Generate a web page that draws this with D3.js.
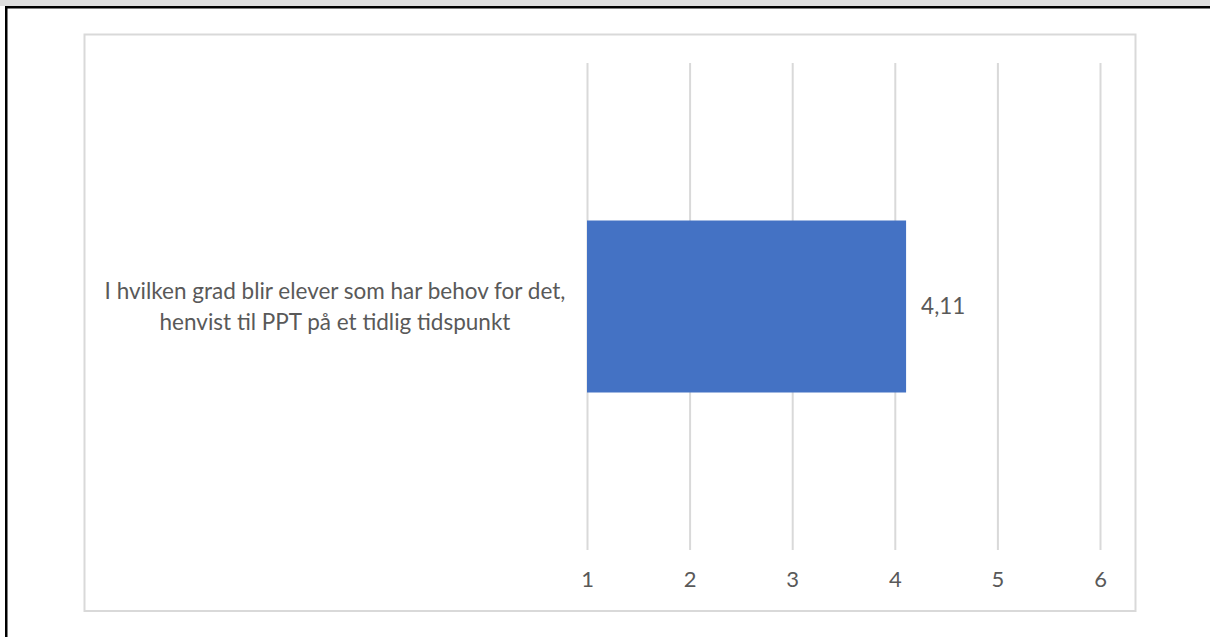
<!DOCTYPE html>
<html><head><meta charset="utf-8">
<script src="https://cdn.jsdelivr.net/npm/d3@7"></script>
<style>html,body{margin:0;padding:0;background:#fff;}svg{display:block;}</style>
</head><body>
<svg id="c" width="1210" height="637"></svg>
<script>
const categories = ["I hvilken grad blir elever som har behov for det,|henvist til PPT på et tidlig tidspunkt"];
const values = [4.11];
const valueLabels = ["4,11"];
const ticks = [1, 2, 3, 4, 5, 6];

const svg = d3.select("#c");
const font = "Lato, 'Open Sans', sans-serif";
const textCol = "#595959";
const gridCol = "#d9d9d9";

// outer page frame
svg.append("rect").attr("x",0).attr("y",0).attr("width",1210).attr("height",6).attr("fill","#dedede");
svg.append("rect").attr("x",5).attr("y",6).attr("width",1205).attr("height",2.5).attr("fill","#000");
svg.append("rect").attr("x",5).attr("y",6).attr("width",2.5).attr("height",631).attr("fill","#000");

// chart frame
svg.append("rect").attr("x",84.5).attr("y",34.5).attr("width",1051).attr("height",576.5)
  .attr("fill","#fff").attr("stroke",gridCol).attr("stroke-width",2);

const x = d3.scaleLinear().domain([1,6]).range([587,1100]);
const y = d3.scaleBand().domain(categories).range([63,550]).paddingInner(0.478).paddingOuter(0.478);

// gridlines via axis
const gx = svg.append("g").attr("transform","translate(0,550)")
  .call(d3.axisBottom(x).tickValues(ticks).tickSize(-487).tickFormat(d3.format("d")).tickPadding(21));
gx.select(".domain").remove();
gx.selectAll(".tick line").attr("stroke",gridCol).attr("stroke-width",2);
gx.selectAll(".tick text").attr("fill",textCol).style("font-family",font).style("font-size","22px");

// bars
svg.selectAll("rect.bar").data(values).enter().append("rect").attr("class","bar")
  .attr("x", x(1)).attr("y",(d,i)=>y(categories[i]))
  .attr("width", d=>x(d)-x(1)).attr("height", y.bandwidth()).attr("fill","#4472C4");

// value labels
svg.selectAll("text.val").data(values).enter().append("text").attr("class","val")
  .attr("x", d=>x(d)+15).attr("y",(d,i)=>y(categories[i])+y.bandwidth()/2)
  .attr("dy","0.35em").attr("fill",textCol).style("font-family",font).style("font-size","22.5px")
  .text((d,i)=>valueLabels[i]);

// category labels
categories.forEach(c=>{
  const lines = c.split("|");
  const t = svg.append("text").attr("text-anchor","middle").attr("fill",textCol)
    .style("font-family",font).style("font-size","22.5px");
  const cy = y(c)+y.bandwidth()/2;
  lines.forEach((l,i)=>{
    t.append("tspan").attr("x",335).attr("y", cy + (i-(lines.length-1)/2)*30.5).attr("dy","0.35em").text(l);
  });
});
</script>
</body></html>
